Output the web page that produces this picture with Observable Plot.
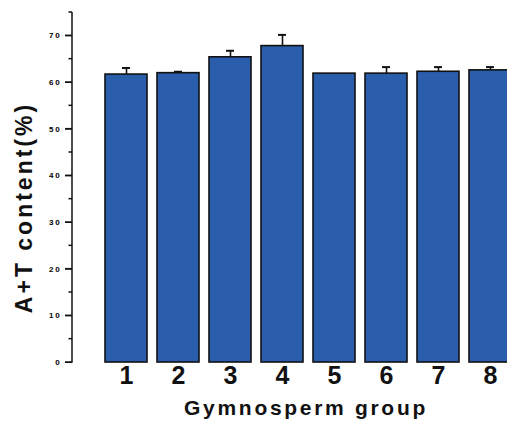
<!DOCTYPE html>
<html>
<head>
<meta charset="utf-8">
<script src="https://cdn.jsdelivr.net/npm/d3@7"></script>
<script src="https://cdn.jsdelivr.net/npm/@observablehq/plot@0.6"></script>
<style>
  body { margin: 0; background: #fff; }
  .ylab text { letter-spacing: 3px; }
  .yt text { letter-spacing: 1.8px; }
  .xlab text { letter-spacing: 2.7px; }
</style>
</head>
<body>
<div id="chart"></div>
<script>
const groups = ["1", "2", "3", "4", "5", "6", "7", "8"];
const values = [61.7, 62.0, 65.4, 67.8, 61.9, 61.9, 62.3, 62.6];
const errors = [1.4, 0.3, 1.4, 2.4, 0.0, 1.4, 1.0, 0.7];
const majorTicks = [0, 10, 20, 30, 40, 50, 60, 70];
const minorTicks = [5, 15, 25, 35, 45, 55, 65, 75];
const yMax = 75;

const data = groups.map((g, i) => ({g, v: values[i], e: errors[i], top: values[i] + errors[i]}));
const errData = data.filter(d => d.e > 0);

// y axis line with major and minor ticks, positioned through Plot's y scale
function yAxisLine(index, scales, values, dimensions) {
  const g = d3.create("svg:g").attr("stroke", "#111").attr("stroke-width", 1.5).attr("fill", "none");
  const x0 = dimensions.marginLeft;
  g.append("line").attr("x1", x0).attr("x2", x0)
    .attr("y1", scales.y(0) + 0.75).attr("y2", scales.y(yMax));
  for (const t of majorTicks) {
    g.append("line").attr("x1", x0).attr("x2", x0 - 7).attr("y1", scales.y(t)).attr("y2", scales.y(t));
  }
  for (const t of minorTicks) {
    g.append("line").attr("x1", x0).attr("x2", x0 - 3.5).attr("y1", scales.y(t)).attr("y2", scales.y(t));
  }
  return g.node();
}

const chart = Plot.plot({
  width: 507,
  height: 423,
  marginLeft: 72,
  marginTop: 12,
  marginBottom: 61,
  marginRight: 0,
  style: {fontFamily: "'Liberation Sans', Arial, sans-serif", background: "#fff"},
  x: {domain: groups, range: [100, 516], paddingInner: 0.19, paddingOuter: 0.095},
  y: {domain: [0, yMax]},
  marks: [
    Plot.ruleX(errData, {x: "g", y1: "v", y2: "top", stroke: "#111", strokeWidth: 1.6}),
    Plot.tickY(errData, {x: "g", y: "top", stroke: "#111", strokeWidth: 2, insetLeft: 17, insetRight: 17}),
    Plot.barY(data, {x: "g", y: "v", fill: "#2a5ead", stroke: "#111", strokeWidth: 1.6}),
    Plot.axisY({ticks: majorTicks, tickSize: 7, tickPadding: 4, fontSize: 8, fontWeight: "bold", label: null, stroke: "#111", className: "yt"}),
    yAxisLine,
    Plot.axisX({tickSize: 0, tickPadding: 4, fontSize: 25, fontWeight: "bold", label: null, fill: "#111"}),
    Plot.text(["A+T content(%)"], {frameAnchor: "left", rotate: -90, textAnchor: "middle", dx: -48, dy: 20, fontSize: 23, fontWeight: "bold", fill: "#111", className: "ylab"}),
    Plot.text(["Gymnosperm group"], {frameAnchor: "bottom", textAnchor: "middle", dy: 52, dx: 16, fontSize: 21, fontWeight: "600", fill: "#111", className: "xlab"})
  ]
});
document.getElementById("chart").appendChild(chart);
</script>
</body>
</html>
